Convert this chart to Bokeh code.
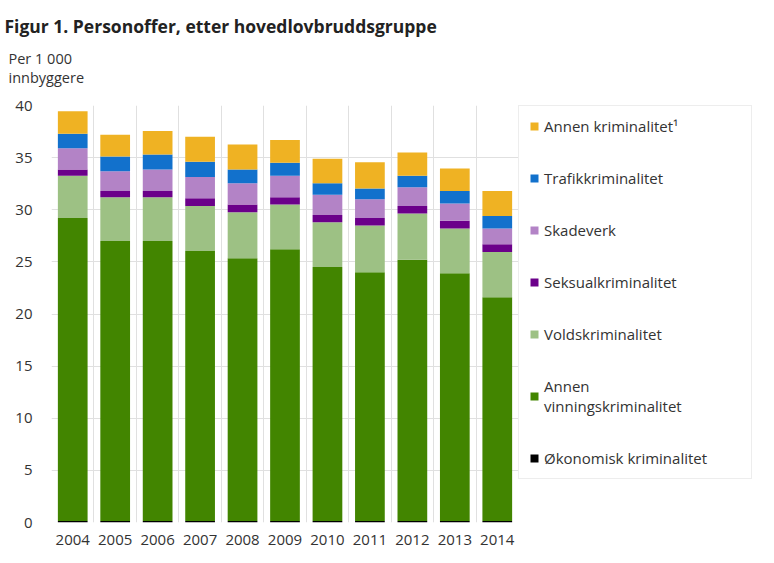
from bokeh.plotting import figure
from bokeh.models import (ColumnDataSource, FactorRange, Range1d, Legend, LegendItem,
                          FixedTicker, Title)
from bokeh.embed import file_html
from bokeh.resources import INLINE

years = ["2004", "2005", "2006", "2007", "2008", "2009", "2010", "2011", "2012", "2013", "2014"]
okonomisk = [0.15, 0.15, 0.15, 0.15, 0.15, 0.15, 0.15, 0.15, 0.15, 0.15, 0.15]
annen_vinning = [29.05, 26.85, 26.85, 25.9, 25.2, 26.05, 24.35, 23.85, 25.05, 23.75, 21.45]
vold = [4.05, 4.2, 4.2, 4.3, 4.4, 4.3, 4.3, 4.5, 4.45, 4.3, 4.35]
seksual = [0.6, 0.6, 0.6, 0.75, 0.75, 0.7, 0.7, 0.7, 0.7, 0.75, 0.75]
skadeverk = [2.05, 1.9, 2.05, 2.05, 2.05, 2.05, 1.95, 1.8, 1.8, 1.65, 1.5]
trafikk = [1.4, 1.4, 1.45, 1.45, 1.3, 1.25, 1.1, 1.05, 1.1, 1.2, 1.2]
annen = [2.15, 2.1, 2.25, 2.4, 2.4, 2.2, 2.35, 2.5, 2.25, 2.15, 2.4]

series_keys = ["okonomisk", "annen_vinning", "vold", "seksual", "skadeverk", "trafikk", "annen"]
series_labels = ["Økonomisk kriminalitet", "Annen\nvinningskriminalitet", "Voldskriminalitet",
                 "Seksualkriminalitet", "Skadeverk", "Trafikkriminalitet", "Annen kriminalitet¹"]
series_colors = ["#000000", "#428500", "#9DC184", "#6B008A", "#B383C6", "#1271CC", "#EFB223"]
y_ticks = [0, 5, 10, 15, 20, 25, 30, 35, 40]

title_text = "Figur 1. Personoffer, etter hovedlovbruddsgruppe"
ylabel_lines = ["Per 1 000", "innbyggere"]

FONT = "Open Sans"
TXT = "#333333"

source = ColumnDataSource(dict(year=years, okonomisk=okonomisk, annen_vinning=annen_vinning,
                               vold=vold, seksual=seksual, skadeverk=skadeverk,
                               trafikk=trafikk, annen=annen))

FRAME_W, FRAME_H = 467, 417
p = figure(x_range=FactorRange(factors=years, range_padding=0), y_range=Range1d(0, 40),
           frame_width=FRAME_W, frame_height=FRAME_H, output_backend="svg", toolbar_location=None,
           title=None,
           min_border_left=51, min_border_top=105, min_border_bottom=38, min_border_right=250)
p.outline_line_color = None

renderers = p.vbar_stack(series_keys, x="year", width=0.7, color=series_colors,
                         line_color=None, source=source)

# grids: vertical lines at category boundaries (synthetic coordinates 0..n)
p.xgrid.ticker = FixedTicker(ticks=list(range(len(years) + 1)))
p.xgrid.grid_line_color = "#e0e0e0"
p.ygrid.ticker = FixedTicker(ticks=y_ticks)
p.ygrid.grid_line_color = "#e0e0e0"

# axes
p.yaxis.ticker = FixedTicker(ticks=y_ticks)
for ax in (p.xaxis, p.yaxis):
    ax.axis_line_color = None
    ax.major_tick_line_color = None
    ax.minor_tick_line_color = None
    ax.major_tick_out = 0
    ax.major_tick_in = 0
    ax.major_label_text_font = FONT
    ax.major_label_text_font_size = "15px"
    ax.major_label_text_color = TXT
p.yaxis.major_label_standoff = 19
p.xaxis.major_label_standoff = 12

# legend (reverse order: top of stack first)
items = [LegendItem(label=lab, renderers=[r]) for lab, r in zip(series_labels, renderers)][::-1]
legend = Legend(items=items, location="top_left", margin=0, padding=10, spacing=32,
                label_height=20, label_width=197, glyph_height=10, glyph_width=10,
                label_standoff=5,
                border_line_color="#dcdcdc", border_line_width=1,
                label_text_font=FONT, label_text_font_size="15px", label_text_color=TXT,
                background_fill_color="white", background_fill_alpha=1)
p.add_layout(legend, "right")

# y-axis label (two lines plus a blank spacer line) nearest the frame, main title above it
p.add_layout(Title(text="\n".join(ylabel_lines + ["\u00a0"]), align="left", offset=-43,
                   standoff=0, text_font=FONT, text_font_size="14.5px",
                   text_font_style="normal", text_color=TXT), "above")
p.add_layout(Title(text=title_text, align="left", offset=-47, standoff=17,
                   text_font=FONT, text_font_size="17.5px", text_font_style="bold",
                   text_color="#222222"), "above")

open("out.html", "w").write(file_html(p, INLINE))
